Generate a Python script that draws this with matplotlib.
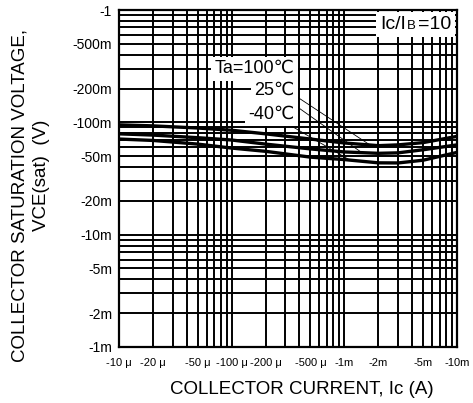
import matplotlib
matplotlib.use("Agg")
import matplotlib.pyplot as plt
import numpy as np
from matplotlib.offsetbox import TextArea, HPacker, AnchoredOffsetbox

plt.rcParams["font.family"] = ["Liberation Sans", "DejaVu Sans"]

# collector current magnitude (A) and VCE(sat) magnitude (V)
IC = [1e-5, 2e-5, 5e-5, 1e-4, 2e-4, 5e-4, 1e-3, 2e-3, 3e-3, 5e-3, 1e-2]
V_100 = [0.095, 0.093, 0.089, 0.085, 0.079, 0.071, 0.0655, 0.062, 0.063, 0.066, 0.075]
V_25 = [0.079, 0.077, 0.073, 0.0696, 0.064, 0.058, 0.0545, 0.053, 0.0535, 0.057, 0.063]
V_M40 = [0.071, 0.069, 0.064, 0.059, 0.0552, 0.049, 0.0466, 0.0436, 0.0435, 0.046, 0.054]

X_TICKS = [1e-5, 2e-5, 5e-5, 1e-4, 2e-4, 5e-4, 1e-3, 2e-3, 5e-3, 1e-2]
X_LABELS = ["-10 μ", "-20 μ", "-50 μ", "-100 μ", "-200 μ", "-500 μ",
            "-1m", "-2m", "-5m", "-10m"]
Y_TICKS = [1, 0.5, 0.2, 0.1, 0.05, 0.02, 0.01, 0.005, 0.002, 0.001]
Y_LABELS = ["-1", "-500m", "-200m", "-100m", "-50m", "-20m", "-10m",
            "-5m", "-2m", "-1m"]

W, H = 473, 403
fig = plt.figure(figsize=(W / 100, H / 100), dpi=100)
ax = fig.add_axes([119 / W, 1 - 347 / H, (457 - 119) / W, (347 - 10) / H])

ax.set_xscale("log")
ax.set_yscale("log")
ax.set_xlim(1e-5, 1e-2)
ax.set_ylim(1e-3, 1)

ax.grid(True, which="both", color="black", lw=1.4, zorder=1)
ax.set_axisbelow(True)
for s in ax.spines.values():
    s.set_linewidth(1.6)

ax.set_xticks(X_TICKS)
ax.set_xticklabels(X_LABELS, fontsize=8)
ax.set_yticks(Y_TICKS)
ax.set_yticklabels(Y_LABELS, fontsize=10)
ax.xaxis.set_minor_formatter(plt.NullFormatter())
ax.yaxis.set_minor_formatter(plt.NullFormatter())
ax.tick_params(which="both", length=0)
ax.tick_params(axis="x", pad=8)
ax.tick_params(axis="y", pad=5)

for v in (V_100, V_25, V_M40):
    ax.plot(IC, v, color="black", lw=2.4, zorder=3, solid_capstyle="butt")

# labels with leader lines
logic = np.log10(IC)
labels = [("Ta=100℃", V_100, 3.6e-4, 0.30, 1.69e-3),
          ("25℃", V_25, 3.6e-4, 0.192, 1.43e-3),
          ("-40℃", V_M40, 3.6e-4, 0.118, 1.12e-3)]
for txt, v, tx, ty, cx in labels:
    cy = 10 ** np.interp(np.log10(cx), logic, np.log10(v))
    ax.annotate(txt, xy=(cx, cy), xytext=(tx, ty), fontsize=13,
                ha="right", va="center", zorder=5,
                bbox=dict(facecolor="white", edgecolor="none", pad=2.5),
                arrowprops=dict(arrowstyle="-", color="black", lw=0.6,
                                shrinkA=0, shrinkB=0))

# Ic/IB = 10 box
parts = [TextArea("Ic/I", textprops=dict(fontsize=14)),
         TextArea("B", textprops=dict(fontsize=9.5)),
         TextArea("=10", textprops=dict(fontsize=14))]
pack = HPacker(children=parts, align="baseline", pad=0, sep=1)
box = AnchoredOffsetbox(loc="upper right", child=pack, pad=0.3,
                        borderpad=0.15, frameon=True)
box.patch.set_facecolor("white")
box.patch.set_edgecolor("none")
box.set_zorder(5)
ax.add_artist(box)

fig.text(302 / W, 1 - 390 / H, "COLLECTOR CURRENT, Ic (A)", fontsize=13.5,
         ha="center", va="center")
fig.text(20 / W, 1 - 195 / H, "COLLECTOR SATURATION VOLTAGE,", fontsize=13.5,
         ha="center", va="center", rotation=90)
fig.text(42 / W, 1 - 175 / H, "VCE(sat)  (V)", fontsize=13.5,
         ha="center", va="center", rotation=90)

fig.savefig("out.png", dpi=100, facecolor="white")
